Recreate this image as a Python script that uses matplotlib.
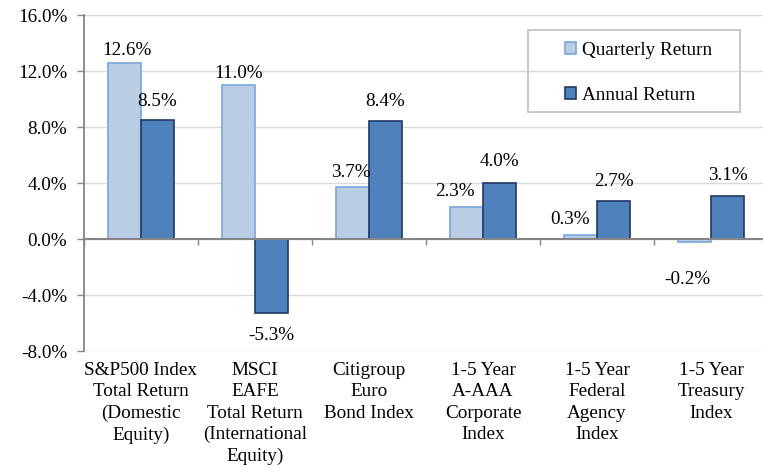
import numpy as np
import matplotlib
matplotlib.use("Agg")
import matplotlib.pyplot as plt
from matplotlib.patches import Rectangle

categories = [
    "S&P500 Index\nTotal Return\n(Domestic\nEquity)",
    "MSCI\nEAFE\nTotal Return\n(International\nEquity)",
    "Citigroup\nEuro\nBond Index",
    "1-5 Year\nA-AAA\nCorporate\nIndex",
    "1-5 Year\nFederal\nAgency\nIndex",
    "1-5 Year\nTreasury\nIndex",
]
quarterly = [12.6, 11.0, 3.7, 2.3, 0.3, -0.2]
annual = [8.5, -5.3, 8.4, 4.0, 2.7, 3.1]
yticks = [-8, -4, 0, 4, 8, 12, 16]

# label nudges in pixels (dx, dy) relative to bar end, styling only
q_nudge = [(2, 12), (0, 12), (-2, 15), (-12, 15), (-10, 15), (-7, -38)]
a_nudge = [(0, 19), (0, -22), (0, 20), (0, 21), (0, 20), (0, 20)]

plt.rcParams['font.family'] = ['Liberation Serif', 'DejaVu Serif']
fs = 13.8
q_color, q_edge = "#B9CDE5", "#7AA6DC"
a_color, a_edge = "#4F81BD", "#1F3864"

fig = plt.figure(figsize=(7.63, 4.70), dpi=100)
W, H = 763, 470
ax = fig.add_axes([84 / W, 1 - 351 / H, 684 / W, 336 / H])

x = np.arange(len(categories))
w = 0.29
bq = ax.bar(x - w / 2, quarterly, w, color=q_color, edgecolor=q_edge, linewidth=1.2,
            label="Quarterly Return", zorder=3)
ba = ax.bar(x + w / 2, annual, w, color=a_color, edgecolor=a_edge, linewidth=1.2,
            label="Annual Return", zorder=3)

px = 0.72  # points per pixel at 100 dpi
for i in range(len(categories)):
    ax.annotate(f"{quarterly[i]:.1f}%", (x[i] - w / 2, quarterly[i]),
                xytext=(q_nudge[i][0] * px, q_nudge[i][1] * px), textcoords="offset points",
                ha="center", va="center", fontsize=fs)
    ax.annotate(f"{annual[i]:.1f}%", (x[i] + w / 2, annual[i]),
                xytext=(a_nudge[i][0] * px, a_nudge[i][1] * px), textcoords="offset points",
                ha="center", va="center", fontsize=fs)
    ax.annotate(categories[i], (x[i], -8), xytext=(0, -8), textcoords="offset points",
                ha="center", va="top", fontsize=fs, linespacing=1.33)

ax.set_xlim(-0.5, 5.5)
ax.set_ylim(-8, 16)
ax.set_yticks(yticks)
ax.set_yticklabels([f"{v:.1f}%" for v in yticks], fontsize=fs)
ax.yaxis.grid(True, color="#D9D9D9", linewidth=1.0, zorder=0)
ax.set_axisbelow(True)

for s in ["top", "right"]:
    ax.spines[s].set_visible(False)
ax.spines["left"].set_color("#868686")
ax.spines["left"].set_linewidth(1.3)
ax.spines["bottom"].set_position(("data", 0))
ax.spines["bottom"].set_color("#868686")
ax.spines["bottom"].set_linewidth(1.5)
ax.spines["bottom"].set_zorder(4)
ax.tick_params(axis="y", length=5, color="#868686", width=1.0, pad=7)
ax.set_xticks(np.arange(-0.5, 6.0, 1.0))
ax.set_xticklabels([])
ax.tick_params(axis="x", length=4, color="#868686", width=1.0, direction="out")

# legend frame drawn separately so the padding matches
fig.patches.append(Rectangle((528 / W, 1 - 112 / H), 212 / W, 82 / H, transform=fig.transFigure,
                             fill=False, edgecolor="#BFBFBF", linewidth=1.2))
fig.legend(handles=[bq, ba], loc="upper left", bbox_to_anchor=(565 / W, 1 - 42 / H),
           frameon=False, fontsize=fs, handlelength=0.55, handleheight=0.55,
           handletextpad=0.35, labelspacing=1.45, borderpad=0, borderaxespad=0)

fig.savefig("out.png", dpi=100)
